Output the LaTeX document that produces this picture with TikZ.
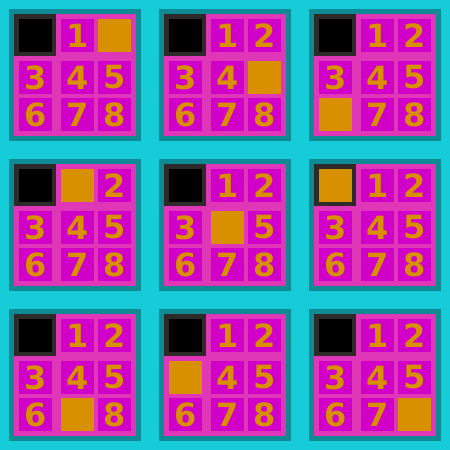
\documentclass[tikz,border=0pt]{standalone}
\usepackage{fontspec}
\newfontfamily\tilefont{DejaVu Sans}
\definecolor{csky}{HTML}{17CCD9}
\definecolor{cframe}{HTML}{0E8A94}
\definecolor{cboard}{HTML}{E037B8}
\definecolor{ctile}{HTML}{D000C8}
\definecolor{cgold}{HTML}{D99000}
\definecolor{cslot}{HTML}{2E2A2A}

\begin{document}
\begin{tikzpicture}[x=1pt, y=-1pt,
    tile/.style={anchor=north west, minimum size=33pt, inner sep=0pt, outer sep=0pt,
      fill=ctile, text=cgold, font=\tilefont\bfseries\fontsize{32}{32}\selectfont},
    gap/.style={tile, fill=cgold},
    hole/.style={tile, fill=black}]
  \fill[csky] (0,0) rectangle (450,450);
  % one board per state, gap position listed in reading order
  \foreach \g [count=\b from 0] in {2,5,6,1,4,0,7,3,8} {
    \pgfmathtruncatemacro\bx{9+150*mod(\b,3)}
    \pgfmathtruncatemacro\by{9+150*floor(\b/3)}
    \begin{scope}[shift={(\bx,\by)}]
      \fill[cframe] (0,0) rectangle (132,132);
      \fill[cboard] (5,5) rectangle (127,127);
      \fill[cslot] (5,5) rectangle (47,47);
      \foreach \k in {0,...,8} {
        \pgfmathtruncatemacro\c{mod(\k,3)}
        \pgfmathtruncatemacro\r{floor(\k/3)}
        \pgfmathtruncatemacro\tx{\c==0 ? 10 : 15+37*\c}
        \pgfmathtruncatemacro\ty{\r==0 ? 10 : 15+37*\r}
        \ifnum\k=\g
          \node[gap] (b\b-\k) at (\tx,\ty) {};
        \else\ifnum\k=0
          \node[hole] (b\b-\k) at (\tx,\ty) {};
        \else
          \node[tile] (b\b-\k) at (\tx,\ty) {\k};
        \fi\fi
      }
    \end{scope}
  }
\end{tikzpicture}
\end{document}
